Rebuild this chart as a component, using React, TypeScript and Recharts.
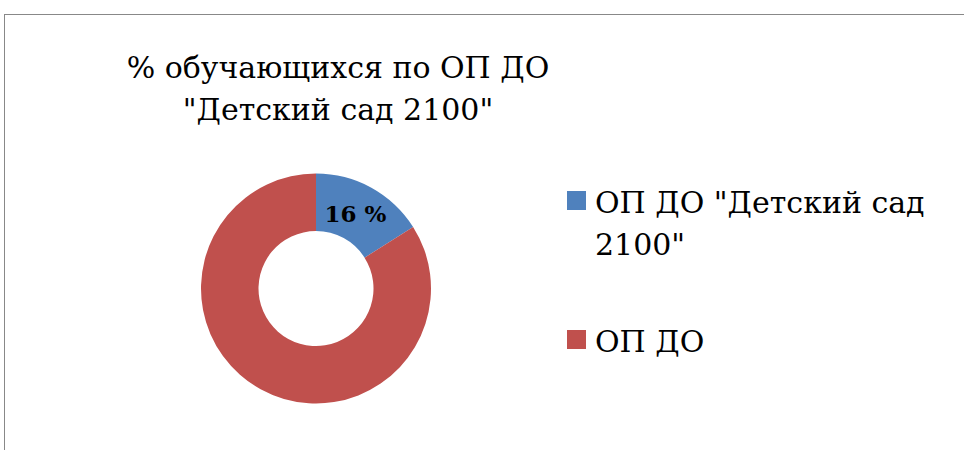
import { Cell, Legend, Pie, PieChart } from 'recharts';

const categories = ['ОП ДО "Детский сад 2100"', 'ОП ДО'];
const values = [16, 84];
const colors = ['#4F81BD', '#C0504D'];
const titleLines = ['% обучающихся по ОП ДО', '"Детский сад 2100"'];

const data = categories.map((name, i) => ({ name, value: values[i] }));

// only serif face that actually resolves in the sandbox
const FONT = "'DejaVu Serif', serif";
const RAD = Math.PI / 180;

function renderLabel(props: any) {
  const { cx, cy, midAngle, innerRadius, outerRadius, index, value } = props;
  if (index !== 0) return null;
  const r = (innerRadius + outerRadius) / 2;
  const x = cx + r * Math.cos(-midAngle * RAD);
  const y = cy + r * Math.sin(-midAngle * RAD);
  return (
    <text
      x={x - 2}
      y={y + 1}
      textAnchor="middle"
      dominantBaseline="central"
      style={{ fontFamily: FONT }}
      fontSize={23}
      fontWeight="bold"
      fill="#000"
    >
      {`${value} %`}
    </text>
  );
}

// legend drawn in data order (recharts sorts by name otherwise)
function LegendContent() {
  return (
    <div style={{ fontFamily: FONT, fontSize: 30, lineHeight: '42px', color: '#000' }}>
      {categories.map((name, i) => (
        <div key={i} style={{ display: 'flex', marginBottom: 55 }}>
          <div
            style={{
              width: 19,
              height: 19,
              marginTop: 9,
              marginRight: 9,
              background: colors[i],
              flex: 'none',
            }}
          />
          <div style={{ width: 350 }}>{name}</div>
        </div>
      ))}
    </div>
  );
}

export default function App() {
  return (
    <div style={{ position: 'absolute', left: 0, top: 0, width: 964, height: 450, overflow: 'hidden', background: '#fff' }}>
      <div
        style={{
          position: 'absolute',
          left: 4,
          top: 14,
          width: 1000,
          height: 500,
          border: '1px solid #888',
        }}
      />
      <div
        style={{
          position: 'absolute',
          left: 88,
          top: 46.5,
          width: 500,
          textAlign: 'center',
          fontFamily: FONT,
          fontSize: 30,
          lineHeight: '42px',
          color: '#000',
        }}
      >
        {titleLines.map((t, i) => (
          <div key={i}>{t}</div>
        ))}
      </div>
      <div style={{ position: 'absolute', left: 0, top: 0 }}>
        <PieChart width={964} height={450} margin={{ top: 0, right: 0, bottom: 0, left: 0 }}>
          <Pie
            data={data}
            dataKey="value"
            nameKey="name"
            cx={316}
            cy={288.5}
            innerRadius={57.5}
            outerRadius={115}
            startAngle={90}
            endAngle={-270}
            stroke="none"
            label={renderLabel}
            labelLine={false}
            isAnimationActive={false}
          >
            {data.map((_, i) => (
              <Cell key={i} fill={colors[i]} />
            ))}
          </Pie>
          <Legend
            layout="vertical"
            align="right"
            verticalAlign="top"
            content={LegendContent}
            wrapperStyle={{ left: 567, top: 181.5, width: 380 }}
          />
        </PieChart>
      </div>
    </div>
  );
}
